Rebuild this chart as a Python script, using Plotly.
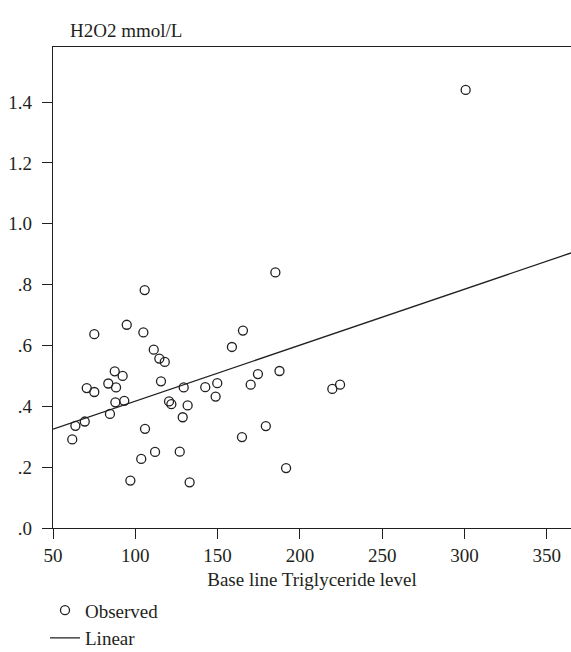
import plotly.graph_objects as go

trig = [105.7, 94.8, 75.1, 104.9, 165.4, 111.2, 158.7, 114.6, 117.9, 87.5,
        92.3, 83.6, 88.3, 70.5, 75.1, 115.6, 129.4, 142.5, 149.8, 148.8,
        170.1, 87.9, 93.3, 84.6, 120.5, 121.9, 131.8, 128.8, 69.3, 63.6,
        61.7, 105.9, 164.8, 112.0, 127.0, 103.6, 97.0, 133.0, 174.5, 187.6,
        219.7, 224.4, 179.3, 191.6, 185.1, 300.7]
h2o2 = [0.782, 0.668, 0.637, 0.643, 0.649, 0.586, 0.595, 0.557, 0.546, 0.515,
        0.500, 0.475, 0.462, 0.460, 0.447, 0.482, 0.462, 0.463, 0.476, 0.432,
        0.471, 0.413, 0.418, 0.375, 0.416, 0.407, 0.403, 0.364, 0.350, 0.336,
        0.291, 0.326, 0.299, 0.250, 0.251, 0.227, 0.156, 0.150, 0.506, 0.516,
        0.457, 0.471, 0.335, 0.197, 0.840, 1.440]

# Linear fit line endpoints
fit_x = [50, 364.7]
fit_y = [0.325, 0.904]

x_ticks = [50, 100, 150, 200, 250, 300, 350]
y_ticks = [0.0, 0.2, 0.4, 0.6, 0.8, 1.0, 1.2, 1.4]
y_tick_text = [".0", ".2", ".4", ".6", ".8", "1.0", "1.2", "1.4"]

FONT = "Liberation Serif"
FS = 19
INK = "#231f20"

fig = go.Figure()
fig.add_trace(go.Scatter(
    x=trig, y=h2o2, mode="markers", name="Observed",
    marker=dict(symbol="circle-open", size=9, color=INK, line=dict(width=1.3, color=INK)),
))
fig.add_trace(go.Scatter(
    x=fit_x, y=fit_y, mode="lines", name="Linear",
    line=dict(color=INK, width=1.3),
))

fig.update_layout(
    width=571, height=652,
    margin=dict(l=53, r=0, t=47, b=124, autoexpand=False),
    paper_bgcolor="white", plot_bgcolor="white",
    font=dict(family=FONT, size=FS, color=INK),
    showlegend=True,
    legend=dict(
        xref="container", yref="container",
        x=0.0788, y=0.093, xanchor="left", yanchor="top",
        font=dict(family=FONT, size=FS, color=INK),
        bgcolor="rgba(0,0,0,0)", tracegroupgap=0,
    ),
    xaxis=dict(
        range=[50, 364.7], tickvals=x_ticks,
        showgrid=False, zeroline=False,
        showline=True, linecolor=INK, linewidth=1.3, mirror=True,
        ticks="outside", ticklen=10, tickcolor=INK, tickwidth=1.2,
        ticklabelstandoff=0,
        tickfont=dict(family=FONT, size=FS, color=INK),
        title=dict(text="Base line Triglyceride level", font=dict(family=FONT, size=FS, color=INK), standoff=7),
    ),
    yaxis=dict(
        range=[0, 1.581], tickvals=y_ticks, ticktext=y_tick_text,
        showgrid=False, zeroline=False,
        showline=True, linecolor=INK, linewidth=1.3,
        ticks="outside", ticklen=10, tickcolor=INK, tickwidth=1.2,
        ticklabelstandoff=6,
        tickfont=dict(family=FONT, size=FS, color=INK),
    ),
    annotations=[dict(
        text="H2O2 mmol/L", xref="paper", yref="paper",
        x=0.029, y=1.035, xanchor="left", yanchor="middle",
        showarrow=False, font=dict(family=FONT, size=FS, color=INK),
    )],
)

fig.write_html(
    "out.html",
    config={"displayModeBar": False},
    post_script="document.body.style.margin='0';document.body.style.overflow='hidden';",
)
